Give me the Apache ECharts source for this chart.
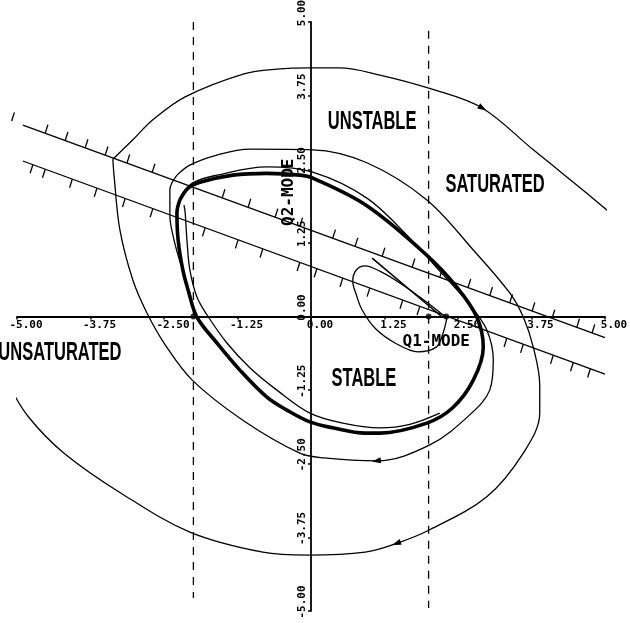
<!DOCTYPE html>
<html>
<head>
<meta charset="utf-8">
<script src="https://cdn.jsdelivr.net/npm/echarts@6/dist/echarts.min.js"></script>
<style>
  html, body { margin: 0; padding: 0; background: #fff; }
  #chart { width: 630px; height: 623px; }
</style>
</head>
<body>
<div id="chart"></div>
<script>
// Phase plane of the two-mode oscillator: Q1 (horizontal) against Q2 (vertical).

const tickValues = [-5, -3.75, -2.5, -1.25, 0, 1.25, 2.5, 3.75, 5];
const tickLabels = ['-5.00', '-3.75', '-2.50', '-1.25', '0.00', '1.25', '2.50', '3.75', '5.00'];

// Limit cycle (heavy line), closed loop.
const limitCycle = [
  [-2.23, 1.98], [-2.09, 2.18], [-1.89, 2.28], [-1.33, 2.40], [-0.75, 2.43], [-0.19, 2.40],
  [0.03, 2.35], [0.95, 1.88], [1.97, 1.04], [2.48, 0.50], [2.82, -0.01], [2.93, -0.52],
  [2.76, -1.08], [2.41, -1.55], [1.97, -1.81], [1.17, -1.98], [0.92, -1.98], [0.37, -1.89],
  [-0.02, -1.79], [-0.41, -1.59], [-0.75, -1.37], [-1.21, -0.91], [-1.60, -0.45], [-1.94, -0.01],
  [-2.09, 0.45], [-2.18, 0.79], [-2.26, 1.30], [-2.28, 1.76], [-2.23, 1.98]
];

// Trajectory hugging the inside of the cycle.
const innerPath = [
  [-2.16, 1.89], [-2.14, 1.76], [-2.11, 1.30], [-2.06, 0.79], [-1.94, 0.33], [-1.77, 0.03],
  [-1.43, -0.45], [-1.04, -0.87], [-0.58, -1.25], [-0.02, -1.64], [0.54, -1.81], [1.17, -1.89],
  [1.68, -1.83], [2.19, -1.64]
];

// Trajectory leaving the cycle: first turn, then the wide upper arc after the switching line.
const middlePath = [
  [-2.19, 2.06], [-2.01, 2.27], [-1.60, 2.40], [-0.75, 2.54], [0.03, 2.45], [0.95, 2.01],
  [1.68, 1.33], [2.19, 0.77], [2.70, 0.20], [2.99, -0.23], [3.10, -0.74], [3.04, -1.25],
  [2.70, -1.67], [2.02, -2.18], [1.12, -2.45], [0.22, -2.40], [-0.19, -2.32], [-1.16, -1.76],
  [-2.02, -1.08], [-2.48, -0.48], [-2.79, 0.06], [-3.03, 0.62], [-3.25, 1.47], [-3.35, 2.40],
  [-3.37, 2.67]
];
const upperArc = [
  [-3.37, 2.67], [-3.03, 3.00], [-2.69, 3.34], [-2.14, 3.73], [-1.14, 4.12], [-0.58, 4.20],
  [0.00, 4.22], [0.48, 4.22], [1.17, 4.10], [2.06, 3.86], [2.91, 3.54], [3.78, 2.83],
  [4.35, 2.37], [5.14, 1.72]
];

// Outer trajectory: short rise on the left, then the large clockwise sweep.
const outerRise = [
  [-2.21, 0.87], [-2.33, 1.30], [-2.40, 1.72], [-2.40, 2.15], [-2.28, 2.40]
];
const outerSweep = [
  [-2.28, 2.40], [-2.06, 2.57], [-1.60, 2.74], [-1.04, 2.84], [0.03, 2.83], [0.95, 2.61],
  [1.97, 1.98], [2.76, 1.13], [3.38, 0.40], [3.61, -0.01], [3.78, -0.52], [3.89, -1.16],
  [3.89, -1.64], [3.61, -2.32], [2.99, -3.06], [2.02, -3.62], [1.46, -3.85], [0.92, -4.00],
  [-0.05, -4.05], [-0.82, -4.00], [-2.06, -3.66], [-3.23, -3.00], [-4.20, -2.32],
  [-4.80, -1.71], [-5.14, -1.16]
];

// Q1-mode loop and its straight approach.
const q1Loop = [
  [2.31, -0.03], [2.14, 0.11], [1.85, 0.33], [1.51, 0.57], [1.17, 0.77], [0.92, 0.86],
  [0.77, 0.79], [0.71, 0.60], [0.77, 0.37], [0.87, 0.11], [1.09, -0.20], [1.43, -0.45],
  [1.82, -0.60], [2.13, -0.52], [2.24, -0.30], [2.31, -0.03]
];
const q1Ray = [[1.04, 0.99], [2.22, 0.0]];

// Switching lines and the positions of their hatch marks.
const upperSwitch = [[-4.90, 3.25], [5.00, -0.36]];
const lowerSwitch = [[-4.90, 2.64], [5.00, -0.98]];
const upperHatchX = [-5.09, -4.52, -4.18, -3.84, -3.50, -3.13, -2.70, -1.51, -1.07, -0.61, -0.19,
  0.37, 0.75, 1.21, 1.72, 2.19, 2.67, 3.04, 3.38, 3.76, 4.10, 4.52, 4.78];
const lowerHatchX = [-4.73, -4.52, -4.06, -3.64, -3.16, -2.69, -1.80, -1.24, -0.82, -0.19, 0.10,
  0.54, 1.00, 1.56, 1.85, 3.33, 3.61, 4.12, 4.46, 4.75];

// Saturation limits (dashed) and equilibrium points.
const leftLimit = [[-2, 5.0], [-2, -4.78]];
const rightLimit = [[2, 4.85], [2, -4.95]];
const equilibria = [[-2, 0], [2, 0], [2.3, 0]];

// Direction arrows: [curve, index of the point carrying the arrow].
const arrowMarks = [[upperArc, 10], [outerSweep, 16], [middlePath, 14]];

// Region and mode annotations.
const regionNames = ['UNSTABLE', 'SATURATED', 'UNSATURATED', 'STABLE'];
const regionPos = [[1.04, 3.30], [3.13, 2.23], [-4.27, -0.62], [0.90, -1.06]];
const modeNames = ['Q2-MODE', 'Q1-MODE'];
const modePos = [[-0.37, 2.11], [2.13, -0.43]];
const modeTurn = [Math.PI / 2, 0];

const INK = '#000';
const MONO = 'DejaVu Sans Mono, monospace';

function curve(data, width) {
  return {
    type: 'line', data, symbol: 'none', showSymbol: false, smooth: 0.35,
    clip: false, silent: true, animation: false, z: 3,
    lineStyle: { color: INK, width }
  };
}

function straight(data, width, dash) {
  return {
    type: 'line', data, symbol: 'none', showSymbol: false, smooth: false,
    clip: false, silent: true, animation: false, z: 2,
    lineStyle: { color: INK, width, type: dash || 'solid' }
  };
}

function hatches(xs, line, dx, dy) {
  const [[x1, y1], [x2, y2]] = line;
  const data = xs.map(x => [x, y1 + (y2 - y1) * (x - x1) / (x2 - x1)]);
  return {
    type: 'custom', data, clip: false, silent: true, animation: false, z: 2,
    renderItem: (params, api) => {
      const p = api.coord([api.value(0), api.value(1)]);
      return {
        type: 'line',
        shape: { x1: p[0], y1: p[1], x2: p[0] + dx, y2: p[1] + dy },
        style: { stroke: INK, lineWidth: 1.3 }
      };
    }
  };
}

const arrowData = arrowMarks.map(([c, i]) => [c[i][0], c[i][1], c[i + 1][0], c[i + 1][1], c[i - 1][0], c[i - 1][1]]);

const arrowSeries = {
  type: 'custom', data: arrowData, clip: false, silent: true, animation: false, z: 4,
  renderItem: (params, api) => {
    const p = api.coord([api.value(0), api.value(1)]);
    const n = api.coord([api.value(2), api.value(3)]);
    const b = api.coord([api.value(4), api.value(5)]);
    const a = Math.atan2(n[1] - b[1], n[0] - b[0]);
    const ux = Math.cos(a), uy = Math.sin(a);
    const vx = -uy, vy = ux;
    const tip = [p[0] + ux * 5, p[1] + uy * 5];
    const l = [p[0] - ux * 4 + vx * 3, p[1] - uy * 4 + vy * 3];
    const r = [p[0] - ux * 4 - vx * 3, p[1] - uy * 4 - vy * 3];
    return { type: 'polygon', shape: { points: [tip, l, r] }, style: { fill: INK } };
  }
};

const regionSeries = {
  type: 'custom', data: regionPos, clip: false, silent: true, animation: false, z: 5,
  renderItem: (params, api) => {
    const p = api.coord([api.value(0), api.value(1)]);
    return {
      type: 'text', x: p[0], y: p[1], scaleX: 0.66,
      style: {
        text: regionNames[params.dataIndex], fill: INK,
        fontFamily: 'Liberation Sans, Arial, sans-serif', fontSize: 25, fontWeight: 'bold',
        align: 'center', verticalAlign: 'middle'
      }
    };
  }
};

const modeSeries = {
  type: 'custom', data: modePos, clip: false, silent: true, animation: false, z: 5,
  renderItem: (params, api) => {
    const p = api.coord([api.value(0), api.value(1)]);
    return {
      type: 'text', x: p[0], y: p[1], rotation: modeTurn[params.dataIndex],
      style: {
        text: modeNames[params.dataIndex], fill: INK,
        fontFamily: MONO, fontSize: 16, fontWeight: 'bold',
        align: 'center', verticalAlign: 'middle'
      }
    };
  }
};

// Tick labels sit on the crossing axes: below the Q1 axis, rotated beside the Q2 axis.
const xTickSeries = {
  type: 'custom', data: tickValues.map(v => [v, 0]), clip: false, silent: true, animation: false, z: 5,
  renderItem: (params, api) => {
    const p = api.coord([api.value(0), api.value(1)]);
    return {
      type: 'text', x: p[0] + 9, y: p[1] + 3,
      style: {
        text: tickLabels[params.dataIndex], fill: INK,
        fontFamily: MONO, fontSize: 11, fontWeight: 'bold',
        align: 'center', verticalAlign: 'top'
      }
    };
  }
};

const yTickSeries = {
  type: 'custom', data: tickValues.map(v => [0, v]), clip: false, silent: true, animation: false, z: 5,
  renderItem: (params, api) => {
    const p = api.coord([api.value(0), api.value(1)]);
    return {
      type: 'text', x: p[0] - 3, y: p[1] - 9, rotation: Math.PI / 2,
      style: {
        text: tickLabels[params.dataIndex], fill: INK,
        fontFamily: MONO, fontSize: 11, fontWeight: 'bold',
        align: 'center', verticalAlign: 'bottom'
      }
    };
  }
};

function axis() {
  return {
    type: 'value', min: -5, max: 5, interval: 1.25,
    splitLine: { show: false },
    axisLine: { show: true, onZero: true, lineStyle: { color: INK, width: 1.8 } },
    axisTick: { show: true, length: 3, lineStyle: { color: INK, width: 1.5 } },
    axisLabel: { show: false }
  };
}

const chart = echarts.init(document.getElementById('chart'), null, { renderer: 'canvas' });
chart.setOption({
  animation: false,
  backgroundColor: '#fff',
  grid: { left: 17, right: 25, top: 22, bottom: 12, containLabel: false, outerBoundsMode: 'none' },
  xAxis: axis(),
  yAxis: axis(),
  series: [
    straight(leftLimit, 1.3, [8, 7]),
    straight(rightLimit, 1.3, [8, 7]),
    straight(upperSwitch, 1.3),
    straight(lowerSwitch, 1.3),
    hatches(upperHatchX, upperSwitch, 2.7, -8.6),
    hatches(lowerHatchX, lowerSwitch, -2.7, 8.6),
    curve(limitCycle, 3.6),
    curve(innerPath, 1.3),
    curve(middlePath, 1.3),
    curve(upperArc, 1.3),
    curve(outerRise, 1.3),
    curve(outerSweep, 1.3),
    curve(q1Loop, 1.3),
    straight(q1Ray, 1.6),
    {
      type: 'scatter', data: equilibria, symbol: 'circle', symbolSize: 6,
      clip: false, silent: true, animation: false, z: 4,
      itemStyle: { color: INK }
    },
    arrowSeries,
    regionSeries,
    modeSeries,
    xTickSeries,
    yTickSeries
  ]
});
</script>
</body>
</html>
